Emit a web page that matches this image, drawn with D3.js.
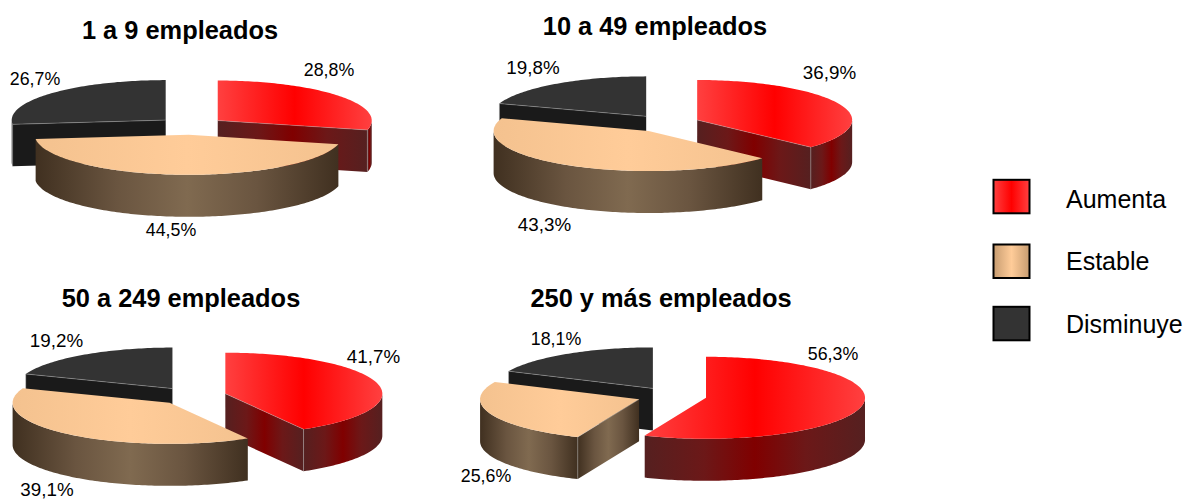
<!DOCTYPE html>
<html><head><meta charset="utf-8">
<script src="https://cdn.jsdelivr.net/npm/d3@7"></script>
<style>html,body{margin:0;padding:0;background:#fff}svg{display:block}text{font-family:"Liberation Sans",Arial,sans-serif;fill:#000}</style>
</head><body><svg id="c" width="1184" height="500"></svg>
<script>
const categories = ["Aumenta","Estable","Disminuye"];
const titles = ["1 a 9 empleados","10 a 49 empleados","50 a 249 empleados","250 y más empleados"];
const aumenta   = [28.8,36.9,41.7,56.3];
const estable   = [44.5,43.3,39.1,25.6];
const disminuye = [26.7,19.8,19.2,18.1];

// layout
const centers = [[191,126],[666,123.5],[192,396],[671.7,396]];
const radiiX = [154,155,157,159];
const radiiY = [40,40,41,41];
const explode = [34,34,34.5,35];
const labelSize = [17.8,18.8,18.8,17.8];
const titlePos = [[180,39],[655,35],[181,307],[661,307]];
const labelPos = [
  [[329,76],[171,236],[35,85]],
  [[829.5,79],[544.5,231],[533,74]],
  [[373.5,363],[47,496],[56.5,347]],
  [[833,360],[486,482],[556,345]]
];
const DEPTH=42;
const palette = [
  {topE:"#ff4040",topC:"#ff0000",wallE:"#552020",wallM:"#6c1818",wallC:"#800000"},
  {topE:"#f4c28f",topC:"#ffcc99",wallE:"#403020",wallM:"#6a5540",wallC:"#806a50"},
  {topE:"#333333",topC:"#333333",wallE:"#1a1a1a",wallM:"#1a1a1a",wallC:"#1a1a1a"}
];

const svg = d3.select("#c");
const defs = svg.append("defs");
function grad(id,stops){
  const g=defs.append("linearGradient").attr("id",id).attr("x1",0).attr("x2",1).attr("y1",0).attr("y2",0);
  stops.forEach(s=>g.append("stop").attr("offset",s[0]).attr("stop-color",s[1]));
}
palette.forEach((p,i)=>{
  grad("t"+i,[[0,p.topE],[.5,p.topC],[1,p.topE]]);
  grad("w"+i,[[0,p.wallE],[.27,p.wallM],[.5,p.wallC],[.73,p.wallM],[1,p.wallE]]);
});
grad("legendTan",[[0,"#c79c70"],[.5,"#ffcc99"],[1,"#c79c70"]]);

const line = d3.line();
const pie = d3.pie().sort(null).value(d=>d);
const fmt = v => v.toFixed(1).replace(".",",")+"%";

titles.forEach((title,ci)=>{
  const [cx,cy]=centers[ci];
  const sx = d3.scaleLinear().domain([-1,1]).range([-radiiX[ci],radiiX[ci]]);
  const sy = d3.scaleLinear().domain([-1,1]).range([-radiiY[ci],radiiY[ci]]);
  const e = explode[ci]/radiiX[ci];
  const vals=[aumenta[ci],estable[ci],disminuye[ci]];
  const arcs=pie(vals);
  const g=svg.append("g");
  [2,0,1].forEach(k=>{
    const d=arcs[k];
    const mid=(d.startAngle+d.endAngle)/2;
    const ox=cx+e*sx(Math.sin(mid));
    const oy=cy-e*sy(Math.cos(mid));
    const a0=d.startAngle,a1=d.endAngle;
    const s=g.append("g");
    const pt=a=>[ox+sx(Math.sin(a)),oy-sy(Math.cos(a))];
    const rim=(b0,b1)=>{
      const n=Math.max(2,Math.ceil((b1-b0)/0.02));
      return d3.range(n+1).map(i=>pt(b0+(b1-b0)*i/n));
    };
    const wall=(pts)=>{
      const poly=pts.concat(pts.slice().reverse().map(p=>[p[0],p[1]+DEPTH]));
      s.append("path").attr("d",line(poly)+"Z").attr("fill",`url(#w${k})`);
    };
    // radial walls
    if(Math.sin(a0)<-1e-6) wall([[ox,oy],pt(a0)]);
    if(Math.sin(a1)>1e-6) wall([[ox,oy],pt(a1)]);
    // outer curved wall, front half only
    const f0=Math.max(a0,Math.PI/2),f1=Math.min(a1,Math.PI*1.5);
    if(f1>f0) wall(rim(f0,f1));
    // top surface
    const topPts=[[ox,oy]].concat(rim(a0,a1));
    s.append("path").attr("d",line(topPts)+"Z").attr("fill",`url(#t${k})`);
    // light seams
    const seam=(a,b)=>s.append("path").attr("d",line([a,b])).attr("fill","none").attr("stroke","#b8b8b8").attr("stroke-opacity",.6).attr("stroke-width",.7);
    const front=[];
    if(Math.sin(a0)<-1e-6) front.push(a0);
    if(Math.sin(a1)>1e-6) front.push(a1);
    front.forEach(a=>{
      const p=pt(a);
      seam([ox,oy],p);
      if(Math.cos(a)<0||k===2) seam(p,[p[0],p[1]+DEPTH]);
    });
    const lp=labelPos[ci][k];
    svg.append("text").attr("x",lp[0]).attr("y",lp[1]).attr("text-anchor","middle")
      .attr("font-size",labelSize[ci]).text(fmt(vals[k]));
  });
  svg.append("text").attr("x",titlePos[ci][0]).attr("y",titlePos[ci][1]).attr("text-anchor","middle")
    .attr("font-size",25.4).attr("font-weight","bold").text(title);
});

// legend
const legendRectY=[179.8,244.5,306.8];
const legendTextY=d3.scalePoint().domain(categories).range([207.5,333]);
categories.forEach((c,i)=>{
  svg.append("rect").attr("x",993.5).attr("y",legendRectY[i]).attr("width",36).attr("height",33.5)
    .attr("fill",i===1?"url(#legendTan)":`url(#t${i})`).attr("stroke","#000").attr("stroke-width",2);
  svg.append("text").attr("x",1066).attr("y",legendTextY(c)).attr("font-size",25).text(c);
});
</script></body></html>
